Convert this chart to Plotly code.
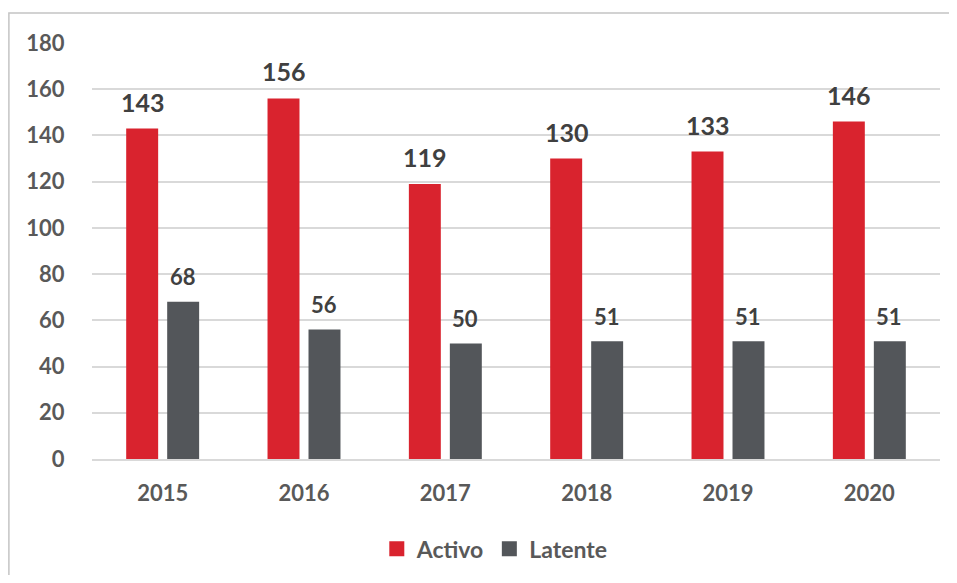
import plotly.graph_objects as go

years = ["2015", "2016", "2017", "2018", "2019", "2020"]
activo = [143, 156, 119, 130, 133, 146]
latente = [68, 56, 50, 51, 51, 51]
y_ticks = [0, 20, 40, 60, 80, 100, 120, 140, 160, 180]

RED = "#D9232E"
GRAY = "#53565A"
FONT = "Lato"

fig = go.Figure()
fig.add_trace(go.Bar(name="Activo", x=years, y=activo, marker=dict(color=RED, line=dict(width=0)),
                     showlegend=False))
fig.add_trace(go.Bar(name="Latente", x=years, y=latente, marker=dict(color=GRAY, line=dict(width=0)),
                     showlegend=False))
# legend entries with larger square symbols
fig.add_trace(go.Scatter(name="Activo", x=[None], y=[None], mode="markers",
                         marker=dict(symbol="square", size=15, color=RED)))
fig.add_trace(go.Scatter(name="Latente", x=[None], y=[None], mode="markers",
                         marker=dict(symbol="square", size=15, color=GRAY)))

annotations = []
for i, (a, l) in enumerate(zip(activo, latente)):
    annotations.append(dict(x=i, y=a, xref="x", yref="y", text=str(a), showarrow=False,
                            xshift=-20, yshift=27, yanchor="middle",
                            font=dict(family=FONT, size=25, color="#404040", weight="bold")))
    annotations.append(dict(x=i, y=l, xref="x", yref="y", text=str(l), showarrow=False,
                            xshift=20, yshift=25, yanchor="middle",
                            font=dict(family=FONT, size=22, color="#404040", weight="bold")))

fig.update_layout(
    width=941, height=567,
    margin=dict(l=84, r=9, t=35, b=116, autoexpand=False),
    paper_bgcolor="white", plot_bgcolor="white",
    barmode="group", bargap=0.42, bargroupgap=0.22,
    font=dict(family=FONT, color="#595959"),
    showlegend=True,
    legend=dict(orientation="h", x=0.475, xanchor="center", y=-0.216, yanchor="middle",
                font=dict(family=FONT, size=23, color="#595959", weight="bold"),
                traceorder="normal", itemwidth=30),
    annotations=annotations,
    shapes=[dict(type="rect", xref="paper", yref="paper", x0=-0.098, x1=1.2, y0=-0.5, y1=1.072,
                 line=dict(color="#C4C4C4", width=1.5), fillcolor="rgba(0,0,0,0)", layer="below")],
)
fig.update_xaxes(type="category", categoryorder="array", categoryarray=years, range=[-0.5, 5.5],
                 showgrid=False, showline=True, linecolor="#D9D9D9", linewidth=1.5,
                 ticks="outside", ticklen=14, tickcolor="rgba(0,0,0,0)",
                 tickfont=dict(family=FONT, size=22, color="#595959", weight="bold"))
fig.update_yaxes(range=[0, 180], tickvals=y_ticks, showgrid=True, gridcolor="#D9D9D9", gridwidth=1.5,
                 zeroline=False, showline=False,
                 ticks="outside", ticklen=22, tickcolor="rgba(0,0,0,0)",
                 tickfont=dict(family=FONT, size=22, color="#595959", weight="bold"))

fig.write_html("out.html")
